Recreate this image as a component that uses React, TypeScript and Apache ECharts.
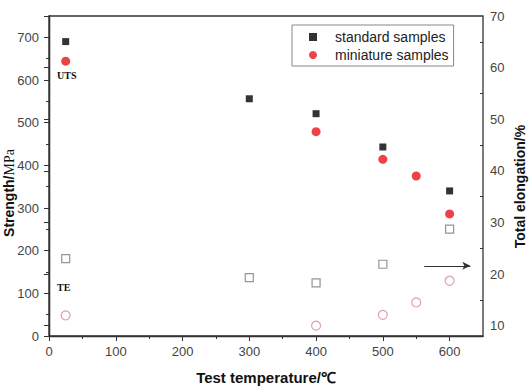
import React, { useEffect, useRef } from "react";
import * as echarts from "echarts";

const temps = [25, 300, 400, 500, 600];
const miniTemps = [25, 400, 500, 550, 600];
const stdUTS = [690, 556, 521, 443, 340];
const miniUTS = [644, 479, 414, 375, 286];
const stdTE = [23.0, 19.3, 18.3, 21.9, 28.7];
const miniTE = [12.0, 10.0, 12.1, 14.5, 18.7];

const xTicks = [0, 100, 200, 300, 400, 500, 600];
const xMinor = [50, 150, 250, 350, 450, 550];
const leftTicks = [0, 100, 200, 300, 400, 500, 600, 700];
const leftMinor = [50, 150, 250, 350, 450, 550, 650];
const rightTicks = [10, 20, 30, 40, 50, 60, 70];
const rightMinor = [15, 25, 35, 45, 55, 65];

const arrowFrom = [562, 21.6];
const arrowTo = [631, 21.6];

const SANS = "'Liberation Sans', Arial, sans-serif";
const SERIF = "'Liberation Serif', 'Times New Roman', serif";
const AXIS = "#333";
const LABEL = "#444";

export default function App() {
  const ref = useRef<HTMLDivElement>(null);
  useEffect(() => {
    if (!ref.current) return;
    const chart = echarts.init(ref.current, null, { renderer: "svg" });
    const line = { show: true, lineStyle: { color: AXIS, width: 1.3 } };
    const lab = (vals: number[], margin: number) => ({
      show: true,
      customValues: vals,
      color: LABEL,
      fontSize: 13,
      fontFamily: SANS,
      margin,
    });
    chart.setOption({
      animation: false,
      grid: {
        left: 49,
        right: 46,
        top: 16,
        bottom: 51,
        show: true,
        borderColor: AXIS,
        borderWidth: 1.3,
        containLabel: false,
        outerBoundsMode: "none",
      },
      legend: {
        left: 292,
        top: 25,
        orient: "vertical",
        padding: [5, 5, 4, 17],
        itemGap: 4,
        itemWidth: 8,
        itemHeight: 8,
        borderColor: "#888",
        borderWidth: 1,
        textStyle: {
          fontSize: 14,
          fontFamily: SANS,
          color: "#222",
          lineHeight: 14,
          padding: [0, 0, 0, 13],
        },
        data: [
          { name: "standard samples", icon: "rect" },
          { name: "miniature samples", icon: "circle" },
        ],
      },
      xAxis: [
        {
          type: "value",
          min: 0,
          max: 650,
          position: "bottom",
          axisLine: line,
          axisTick: { show: true, inside: false, length: 5, customValues: xTicks, lineStyle: { color: AXIS } },
          axisLabel: lab(xTicks, 9),
          splitLine: { show: false },
          name: "Test temperature/℃",
          nameLocation: "middle",
          nameGap: 34,
          nameMoveOverlap: false,
          nameTextStyle: { fontSize: 15, fontWeight: "bold", fontFamily: SANS, color: "#111" },
        },
        {
          type: "value",
          min: 0,
          max: 650,
          position: "bottom",
          axisLine: { show: false },
          axisTick: { show: true, inside: false, length: 3, customValues: xMinor, lineStyle: { color: AXIS } },
          axisLabel: { show: false },
          splitLine: { show: false },
        },
      ],
      yAxis: [
        {
          type: "value",
          min: 0,
          max: 750,
          position: "left",
          axisLine: line,
          axisTick: { show: true, inside: false, length: 5, customValues: leftTicks, lineStyle: { color: AXIS } },
          axisLabel: lab(leftTicks, 10),
          splitLine: { show: false },
          name: "{b|Strength/}{n|MPa}",
          nameLocation: "middle",
          nameGap: 33,
          nameMoveOverlap: false,
          nameTextStyle: {
            padding: [0, 34, 0, 0],
            rich: {
              b: { fontSize: 14, fontWeight: "bold", fontFamily: SANS, color: "#111" },
              n: { fontSize: 14, fontFamily: SERIF, color: "#111" },
            },
          },
        },
        {
          type: "value",
          min: 8,
          max: 70,
          position: "right",
          axisLine: line,
          axisTick: { show: true, inside: true, length: 5, customValues: rightTicks, lineStyle: { color: AXIS } },
          axisLabel: lab(rightTicks, 7),
          splitLine: { show: false },
          name: "Total elongation/%",
          nameLocation: "middle",
          nameGap: 30,
          nameMoveOverlap: false,
          nameTextStyle: {
            fontSize: 14,
            fontWeight: "bold",
            fontFamily: SANS,
            color: "#111",
            padding: [0, 21, 0, 0],
          },
        },
        {
          type: "value",
          min: 0,
          max: 750,
          position: "left",
          axisLine: { show: false },
          axisTick: { show: true, inside: false, length: 3, customValues: leftMinor, lineStyle: { color: AXIS } },
          axisLabel: { show: false },
          splitLine: { show: false },
        },
        {
          type: "value",
          min: 8,
          max: 70,
          position: "right",
          axisLine: { show: false },
          axisTick: { show: true, inside: true, length: 3, customValues: rightMinor, lineStyle: { color: AXIS } },
          axisLabel: { show: false },
          splitLine: { show: false },
        },
      ],
      series: [
        {
          name: "standard samples",
          type: "scatter",
          xAxisIndex: 0,
          yAxisIndex: 0,
          symbol: "rect",
          symbolSize: 7,
          itemStyle: { color: "#000" },
          data: temps.map((t, i) => [t, stdUTS[i]]),
        },
        {
          name: "miniature samples",
          type: "scatter",
          xAxisIndex: 0,
          yAxisIndex: 0,
          symbol: "circle",
          symbolSize: 9,
          itemStyle: { color: "#e8141a" },
          data: miniTemps.map((t, i) => [t, miniUTS[i]]),
        },
        {
          name: "standard TE",
          type: "scatter",
          xAxisIndex: 0,
          yAxisIndex: 1,
          symbol: "rect",
          symbolSize: 8,
          itemStyle: { color: "#fff", borderColor: "#7a7a7a", borderWidth: 1.2 },
          data: temps.map((t, i) => [t, stdTE[i]]),
        },
        {
          name: "miniature TE",
          type: "scatter",
          xAxisIndex: 0,
          yAxisIndex: 1,
          symbol: "circle",
          symbolSize: 9,
          itemStyle: { color: "#fff", borderColor: "#d58a9e", borderWidth: 1.2 },
          data: miniTemps.map((t, i) => [t, miniTE[i]]),
          markLine: {
            silent: true,
            symbol: ["none", "arrow"],
            symbolSize: [6, 8],
            label: { show: false },
            lineStyle: { color: "#333", width: 1, type: "solid" },
            data: [[{ coord: arrowFrom }, { coord: arrowTo }]],
          },
        },
      ],
      graphic: [
        {
          type: "text",
          x: 57,
          y: 70,
          style: { text: "UTS", fontSize: 10, fontWeight: "bold", fontFamily: SERIF, fill: "#111" },
        },
        {
          type: "text",
          x: 57,
          y: 282,
          style: { text: "TE", fontSize: 10, fontWeight: "bold", fontFamily: SERIF, fill: "#111" },
        },
      ],
    });
    return () => chart.dispose();
  }, []);
  return (
    <div
      ref={ref}
      style={{ position: "absolute", left: 0, top: 0, width: 529, height: 387 }}
    />
  );
}
